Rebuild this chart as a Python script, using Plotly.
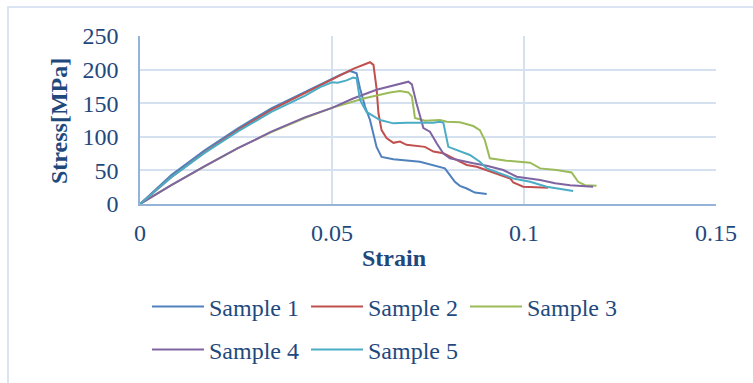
import plotly.graph_objects as go

# ---- data (strain, stress in MPa) ----
s1_strain = [0, .00816, .01685, .0255, .0342, .0429, .05, .0521, .0547, .0564, .0573, .0586, .0599, .0608,
             .0616, .0629, .066, .0729, .0773, .0794, .0807, .082, .0833, .0851, .0872, .0903]
s1_stress = [0, 43, 80, 112.6, 142.4, 167, 187, 192, 198, 194.5, 172, 145, 125, 105,
             85, 70, 66.5, 63, 55.5, 53, 43, 33, 27, 23, 17, 15]

s2_strain = [0, .00816, .01685, .0255, .0342, .0429, .05, .0521, .0555, .0599, .0608, .0616, .0621, .0629,
             .0642, .066, .0677, .0694, .0742, .0764, .079, .0833, .0851, .0877, .0903, .0938, .0964,
             .0972, .0998, .1063]
s2_stress = [0, 40, 77, 110, 140, 165, 186, 192, 201, 211, 207, 172, 135, 110,
             98, 91, 93, 88, 85, 78, 75.4, 63, 58, 55.5, 50.6, 43, 38,
             32, 25.8, 24.3]

s3_strain = [0, .00816, .01685, .0255, .0342, .0429, .05, .0555, .0582, .0651, .0677, .0699, .0708, .0716,
             .0742, .0781, .0799, .0833, .0868, .0885, .0898, .0911, .0955, .1016, .1042, .1085, .1124,
             .1141, .1159, .1189]
s3_stress = [0, 28, 56, 83, 107, 128, 143, 153, 157, 166, 168, 166, 160, 128,
             124, 125, 122.5, 121.5, 116, 110, 95, 68, 64.5, 61.5, 53, 50.6, 47,
             33, 28, 27]

s4_strain = [0, .00816, .01685, .0255, .0342, .0429, .05, .0555, .0616, .0668, .0699, .0708, .072, .0738,
             .0755, .0773, .079, .0807, .0833, .0868, .0903, .0946, .0981, .1042, .1081, .112, .118]
s4_stress = [0, 28, 56.5, 83, 107.6, 129, 143, 157, 170, 178, 182, 178, 150, 113,
             107.6, 90, 75, 68, 64.5, 60.5, 57, 50.6, 40.6, 35.7, 30.8, 28, 25.8]

s5_strain = [0, .00816, .01685, .0255, .0342, .0429, .0469, .05, .0515, .0538, .0555, .0564, .0573, .059,
             .0625, .066, .0694, .0764, .0781, .079, .0803, .0825, .0859, .0885, .0903, .0938, .0972,
             .1016, .1059, .1128]
s5_stress = [0, 40, 76, 108, 137, 161, 174, 181, 180.5, 184, 188, 187, 155, 137,
             125, 120, 121, 121, 122.5, 121, 85, 80, 73, 63, 53, 45.6, 38,
             33, 25.8, 19.3]

series_names = ["Sample 1", "Sample 2", "Sample 3", "Sample 4", "Sample 5"]
series_x = [s1_strain, s2_strain, s3_strain, s4_strain, s5_strain]
series_y = [s1_stress, s2_stress, s3_stress, s4_stress, s5_stress]
series_colors = ["#4F81BD", "#C0504D", "#9BBB59", "#8064A2", "#4BACC6"]
series_legend = ["legend", "legend", "legend", "legend2", "legend2"]

x_ticks = [0, 0.05, 0.1, 0.15]
x_ticklabels = ["0", "0.05", "0.1", "0.15"]
y_ticks = [0, 50, 100, 150, 200, 250]

TEXT = "#1F497D"
FONT = "Liberation Serif"

fig = go.Figure()
for name, xs, ys, c, lg in zip(series_names, series_x, series_y, series_colors, series_legend):
    fig.add_trace(go.Scatter(x=xs, y=ys, mode="lines", name=name, legend=lg,
                             line=dict(color=c, width=2)))

W, H = 753, 383
ml, mr, mt, mb = 140, W - 716, 36, H - 204
pw, ph = W - ml - mr, H - mt - mb

def px_x(p):
    return (p - ml) / pw

def px_y(p):
    return (H - mb - p) / ph

legend_common = dict(orientation="h", xanchor="left", yanchor="middle",
                     font=dict(family=FONT, size=24, color=TEXT),
                     itemwidth=52, entrywidth=92, entrywidthmode="pixels",
                     bgcolor="rgba(0,0,0,0)", traceorder="normal")

fig.update_layout(
    width=W, height=H,
    margin=dict(l=ml, r=mr, t=mt, b=mb, pad=0, autoexpand=False),
    paper_bgcolor="white", plot_bgcolor="white",
    font=dict(family=FONT, size=24, color=TEXT),
    showlegend=True,
    legend=dict(x=px_x(147), y=px_y(307), **legend_common),
    legend2=dict(x=px_x(147), y=px_y(350), **legend_common),
    xaxis=dict(range=[0, 0.15], tickvals=x_ticks, ticktext=x_ticklabels,
               showgrid=True, gridcolor="#D6E1F0", gridwidth=1.5,
               showline=True, linecolor="#95B3D7", linewidth=1.5,
               zeroline=False, ticks="", ticklabelstandoff=6, automargin=False,
               tickfont=dict(family=FONT, size=24, color=TEXT)),
    yaxis=dict(range=[0, 250], tickvals=y_ticks,
               showgrid=True, gridcolor="#D6E1F0", gridwidth=1.5,
               showline=True, linecolor="#95B3D7", linewidth=1.5,
               zeroline=False, ticks="", ticklabelstandoff=15, automargin=False,
               tickfont=dict(family=FONT, size=24, color=TEXT)),
    annotations=[
        dict(text="<b>Strain</b>", xref="paper", yref="paper", x=px_x(394), y=px_y(258),
             xanchor="center", yanchor="middle", showarrow=False,
             font=dict(family=FONT, size=24, color=TEXT)),
        dict(text="<b>Stress[MPa]</b>", xref="paper", yref="paper", x=px_x(59), y=px_y(121),
             xanchor="center", yanchor="middle", showarrow=False, textangle=-90,
             font=dict(family=FONT, size=24, color=TEXT)),
    ],
    shapes=[
        dict(type="rect", xref="paper", yref="paper", x0=px_x(8), x1=px_x(800),
             y0=px_y(420), y1=px_y(7), line=dict(color="#D0DCEE", width=1.5),
             fillcolor="rgba(0,0,0,0)", layer="below"),
    ],
)

fig.write_html("out.html", config={"displayModeBar": False},
               post_script="document.body.style.margin='0';document.body.style.overflow='hidden';")
